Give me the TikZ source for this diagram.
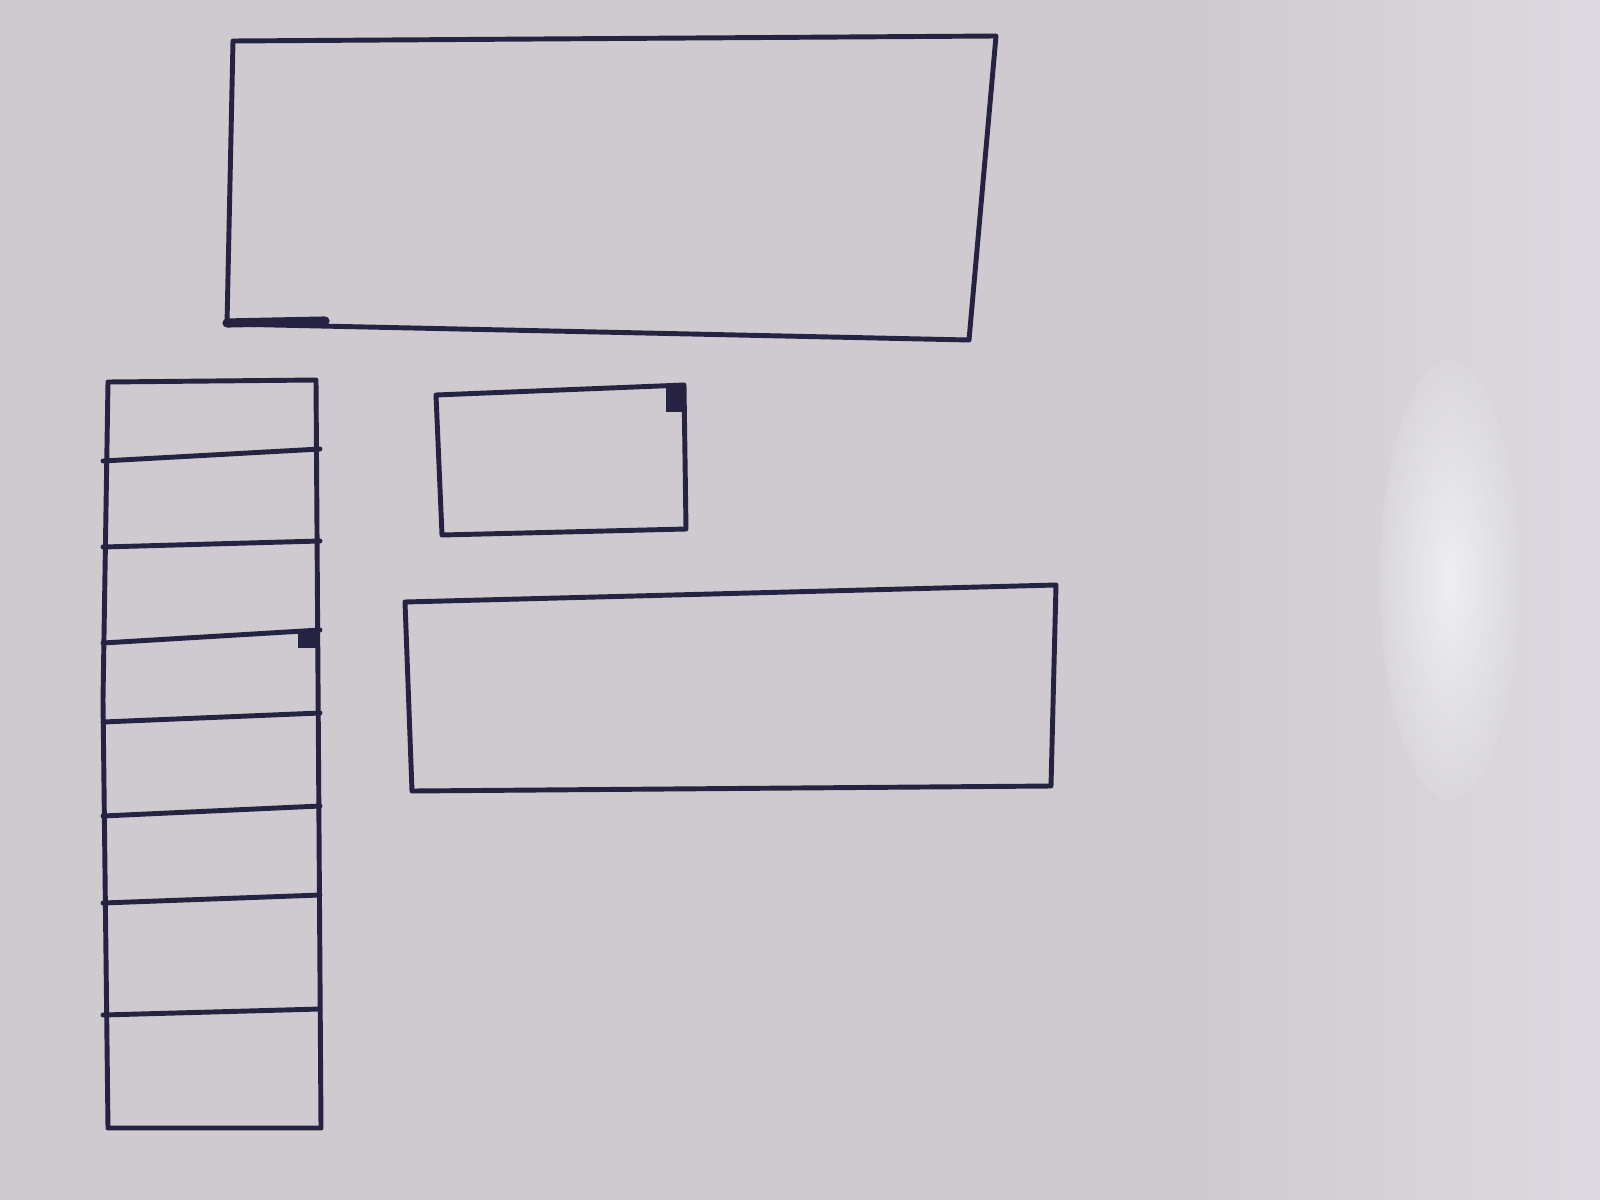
\documentclass[tikz,border=0pt]{standalone}
\begin{document}
\begin{tikzpicture}[x=0.01cm,y=-0.01cm]
\definecolor{board}{RGB}{206,202,208}
\definecolor{boardlight}{RGB}{220,218,224}
\definecolor{ink}{RGB}{38,34,66}
\tikzset{pen/.style={draw=ink,line width=1.4pt,line join=round,line cap=round},
  blob/.style={fill=ink}}
\useasboundingbox (0,0) rectangle (1600,1200);
\fill[board] (0,0) rectangle (1600,1200);
\shade[left color=board, right color=boardlight, middle color=board] (800,0) rectangle (1600,1200);
\shade[inner color=white, outer color=boardlight, opacity=0.6] (1450,580) ellipse (70 and 220);
% top rectangle
\coordinate (t1) at (233,41); \coordinate (t2) at (996,36);
\coordinate (t3) at (969,340); \coordinate (t4) at (227,324);
\draw[pen] (t1) -- (t2) -- (t3) -- (t4) -- cycle;
\draw[ink,line width=2.6pt,line cap=round] (227,323) -- (325,321);
% small rectangle
\coordinate (s1) at (436,395); \coordinate (s2) at (684,385);
\coordinate (s3) at (686,529); \coordinate (s4) at (442,535);
\draw[pen] (s1) -- (s2) -- (s3) -- (s4) -- cycle;
\fill[blob] (666,386) rectangle (685,412);
% bottom rectangle
\coordinate (b1) at (405,602); \coordinate (b2) at (1056,585);
\coordinate (b3) at (1051,786); \coordinate (b4) at (412,791);
\draw[pen] (b1) -- (b2) -- (b3) -- (b4) -- cycle;
% left column
\coordinate (c1) at (108,382); \coordinate (c2) at (316,380);
\coordinate (c3) at (321,1128); \coordinate (c4) at (108,1128);
\draw[pen] (c1) -- (c2) -- (c3) -- (c4) -- (103,700) -- cycle;
\foreach \yl/\yr in {461/449, 547/541, 643/630, 722/713, 816/806, 903/895, 1015/1009}
  \draw[pen] (103,\yl) -- (320,\yr);
\fill[blob] (298,630) rectangle (316,648);
\end{tikzpicture}
\end{document}
